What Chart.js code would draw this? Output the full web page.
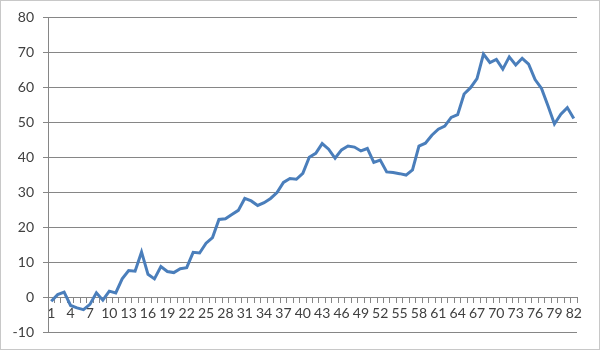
<!DOCTYPE html>
<html>
<head>
<meta charset="utf-8">
<script src="https://cdn.jsdelivr.net/npm/chart.js@4"></script>
<style>
  body { margin: 0; background: #fff; }
  canvas { display: block; }
</style>
</head>
<body>
<canvas id="chart" width="600" height="350"></canvas>
<script>
// category labels 1..82
const categories = [
  "1", "2", "3", "4", "5", "6", "7", "8", "9", "10",
  "11", "12", "13", "14", "15", "16", "17", "18", "19", "20",
  "21", "22", "23", "24", "25", "26", "27", "28", "29", "30",
  "31", "32", "33", "34", "35", "36", "37", "38", "39", "40",
  "41", "42", "43", "44", "45", "46", "47", "48", "49", "50",
  "51", "52", "53", "54", "55", "56", "57", "58", "59", "60",
  "61", "62", "63", "64", "65", "66", "67", "68", "69", "70",
  "71", "72", "73", "74", "75", "76", "77", "78", "79", "80",
  "81", "82"
];

// values
const values = [
  -1.2, 0.7, 1.4, -2.4, -3.1, -3.6, -2.1, 1.2, -0.9, 1.7,
  1.2, 5.2, 7.6, 7.4, 12.9, 6.5, 5.2, 8.7, 7.3, 7.0,
  8.1, 8.4, 12.8, 12.6, 15.4, 17.0, 22.2, 22.4, 23.6, 24.8,
  28.2, 27.5, 26.2, 27.0, 28.2, 29.9, 32.8, 33.9, 33.7, 35.4,
  40.0, 41.1, 43.9, 42.3, 39.7, 42.1, 43.2, 42.9, 41.8, 42.5,
  38.5, 39.2, 35.8, 35.6, 35.3, 34.9, 36.4, 43.2, 44.0, 46.3,
  48.0, 48.9, 51.4, 52.2, 58.1, 59.9, 62.5, 69.5, 67.1, 68.0,
  65.2, 68.7, 66.4, 68.3, 66.6, 62.2, 59.7, 54.7, 49.5, 52.3,
  54.2, 51.1
];

// y axis ticks
const yTicks = [-10, 0, 10, 20, 30, 40, 50, 60, 70, 80];

const axisGray = "#868686";
const textColor = "#404040";

// thin frame round the whole chart, like the Excel chart border
const frame = {
  id: "frame",
  afterDraw(chart) {
    const ctx = chart.ctx;
    ctx.save();
    ctx.strokeStyle = "#c8c8c8";
    ctx.lineWidth = 1;
    ctx.strokeRect(0.5, 0.5, chart.width - 1, chart.height - 1);
    ctx.restore();
  }
};

new Chart(document.getElementById("chart").getContext("2d"), {
  type: "line",
  data: {
    labels: categories,
    datasets: [
      {
        data: values,
        borderColor: "#4a7ebb",
        borderWidth: 3,
        pointRadius: 0,
        tension: 0,
        fill: false,
      },
    ],
  },
  options: {
    responsive: false,
    animation: false,
    layout: { padding: { left: 0, right: 23, top: 10, bottom: 18 } },
    scales: {
      x: {
        type: "category",
        position: { y: 0 },
        offset: true,
        grid: {
          offset: true,
          drawOnChartArea: false,
          color: axisGray,
          tickLength: 5,
        },
        border: { color: axisGray },
        ticks: {
          autoSkip: false,
          maxRotation: 0,
          padding: 3,
          color: textColor,
          font: { family: "Lato", size: 14 },
          callback: (val, i) => (i % 3 === 0 ? categories[i] : ""),
        },
      },
      y: {
        min: -10,
        max: 80,
        afterBuildTicks: (scale) => {
          scale.ticks = yTicks.map((v) => ({ value: v }));
        },
        afterFit: (scale) => {
          scale.width = 48;
        },
        grid: { color: axisGray, tickLength: 5 },
        border: { color: axisGray },
        ticks: {
          padding: 9,
          color: textColor,
          font: { family: "Lato", size: 14 },
        },
      },
    },
    plugins: {
      legend: { display: false },
      tooltip: { enabled: false },
    },
  },
  plugins: [frame],
});
</script>
</body>
</html>
